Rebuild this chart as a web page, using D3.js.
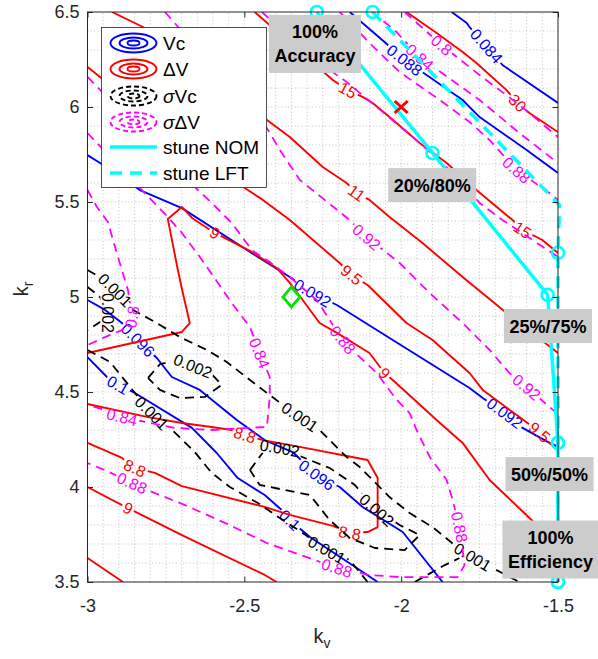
<!DOCTYPE html>
<html>
<head>
<meta charset="utf-8">
<title>stune contours</title>
<style>
  body { margin: 0; background: #fff; }
  text { font-family: "Liberation Sans", Arial, Helvetica, sans-serif; }
</style>
</head>
<body>
<svg id="chart" width="598" height="659"></svg>
<script src="https://cdnjs.cloudflare.com/ajax/libs/d3/7.8.5/d3.min.js"></script>
<script>
// axis ticks
var kvTicks = [-3, -2.5, -2, -1.5];
var krTicks = [3.5, 4, 4.5, 5, 5.5, 6, 6.5];

// Vc contours (blue), points are [kv, kr]
var vcLines = [
  {level: "0.084", pts: [[-1.839,6.5],[-1.791,6.442],[-1.782,6.421],[-1.728,6.321],[-1.677,6.221],[-1.5,6.021]], labels: [[-1.728,6.321]]},
  {level: "0.088", pts: [[-2.164,6.5],[-2.053,6.342],[-1.989,6.247],[-1.919,6.168],[-1.804,6.037],[-1.750,5.947],[-1.600,5.774],[-1.5,5.653]], labels: [[-1.989,6.247]]},
  {level: "0.092", pts: [[-3,5.747],[-2.960,5.705],[-2.833,5.563],[-2.699,5.468],[-2.467,5.221],[-2.355,5.105],[-2.282,5.021],[-2.205,4.958],[-2.037,4.784],[-1.782,4.521],[-1.740,4.468],[-1.670,4.389],[-1.613,4.311],[-1.527,4.232],[-1.5,4.211]], labels: [[-2.282,5.021],[-1.670,4.389]]},
  {level: "0.096", pts: [[-3,4.984],[-2.944,4.932],[-2.890,4.863],[-2.839,4.774],[-2.779,4.679],[-2.731,4.579],[-2.642,4.511],[-2.524,4.353],[-2.435,4.247],[-2.346,4.184],[-2.269,4.063],[-2.196,4.0],[-2.123,3.895],[-1.995,3.763],[-1.868,3.5]], labels: [[-2.839,4.774],[-2.269,4.063]]},
  {level: "0.1", pts: [[-3,4.684],[-2.938,4.579],[-2.903,4.537],[-2.849,4.495],[-2.667,4.311],[-2.588,4.179],[-2.521,4.047],[-2.435,3.958],[-2.381,3.879],[-2.355,3.826],[-2.291,3.737],[-2.132,3.563],[-2.075,3.5]], labels: [[-2.903,4.537],[-2.355,3.826]]}
];

// Delta V contours (red)
var dvLines = [
  {level: "30", pts: [[-1.983,6.5],[-1.887,6.389],[-1.804,6.289],[-1.760,6.232],[-1.664,6.089],[-1.629,6.021],[-1.591,5.968],[-1.5,5.868]], labels: [[-1.629,6.021]]},
  {level: "15", pts: [[-2.467,6.5],[-2.218,6.142],[-2.170,6.089],[-2.123,6.053],[-2.091,6.021],[-2.037,5.947],[-1.941,5.811],[-1.855,5.705],[-1.760,5.563],[-1.645,5.405],[-1.613,5.353],[-1.550,5.300],[-1.5,5.232]], labels: [[-2.170,6.089],[-1.613,5.353]]},
  {level: "11", pts: [[-2.922,6.5],[-2.823,6.421],[-2.428,5.932],[-2.355,5.842],[-2.250,5.684],[-2.174,5.600],[-2.142,5.547],[-2.101,5.511],[-2.037,5.421],[-1.932,5.284],[-1.804,5.105],[-1.664,4.916],[-1.5,4.705]], labels: [[-2.142,5.547]]},
  {level: "9.5", pts: [[-3,6.211],[-2.960,6.158],[-2.537,5.616],[-2.441,5.511],[-2.355,5.405],[-2.196,5.179],[-2.158,5.116],[-2.107,5.063],[-1.983,4.863],[-1.900,4.774],[-1.782,4.600],[-1.740,4.511],[-1.623,4.368],[-1.559,4.289],[-1.527,4.232],[-1.5,4.195]], labels: [[-2.158,5.116],[-1.559,4.289]]},
  {level: "9", pts: [[-3,4.705],[-2.699,4.816],[-2.674,4.863],[-2.696,5.021],[-2.712,5.142],[-2.744,5.411],[-2.699,5.474],[-2.667,5.416],[-2.594,5.337],[-2.476,5.237],[-2.397,5.153],[-2.355,5.074],[-2.314,4.984],[-2.260,4.863],[-2.205,4.811],[-2.101,4.705],[-2.053,4.600],[-2.027,4.563],[-1.887,4.353],[-1.804,4.232],[-1.718,4.037],[-1.591,3.837],[-1.5,3.695]], labels: [[-2.594,5.337],[-2.053,4.600]]},
  {level: "8.8", pts: [[-3,4.437],[-2.807,4.368],[-2.699,4.337],[-2.604,4.316],[-2.540,4.300],[-2.498,4.274],[-2.441,4.247],[-2.323,4.211],[-2.107,4.142],[-2.075,4.047],[-2.075,3.789],[-2.107,3.763],[-2.164,3.758],[-2.218,3.795],[-2.355,3.853],[-2.435,3.895],[-2.699,4.005],[-2.785,4.074],[-2.849,4.100],[-2.890,4.153],[-3,4.232]], labels: [[-2.498,4.274],[-2.164,3.758],[-2.849,4.100]]},
  {level: "9", pts: [[-3,4.0],[-2.890,3.905],[-2.871,3.889],[-2.839,3.863],[-2.699,3.747],[-2.435,3.537],[-2.397,3.5]], labels: [[-2.871,3.889]]},
  {level: "9.5", pts: [[-3,3.626],[-2.887,3.5]], labels: []}
];

// sigma Vc contours (black dashed)
var svLines = [
  {level: "0.001", pts: [[-3,5.142],[-2.960,5.105],[-2.912,5.037],[-2.855,4.932],[-2.779,4.863],[-2.705,4.789],[-2.619,4.721],[-2.556,4.658],[-2.482,4.563],[-2.428,4.495],[-2.377,4.432],[-2.323,4.368],[-2.260,4.300],[-2.174,4.158],[-2.132,4.105],[-2.037,3.947],[-1.973,3.863],[-1.900,3.789],[-1.830,3.695],[-1.772,3.632],[-1.709,3.574],[-1.623,3.5]], labels: [[-2.912,5.037],[-2.323,4.368],[-1.772,3.632]]},
  {level: "0.002", pts: [[-3,5.053],[-2.960,5.0],[-2.935,4.916],[-2.960,4.868],[-3,4.826]], labels: [[-2.935,4.916]]},
  {level: "0.002", pts: [[-2.807,4.574],[-2.769,4.647],[-2.705,4.668],[-2.664,4.637],[-2.610,4.605],[-2.572,4.537],[-2.626,4.474],[-2.705,4.468],[-2.769,4.511],[-2.807,4.574]], labels: [[-2.664,4.637]]},
  {level: "0.001", pts: [[-3,4.721],[-2.928,4.658],[-2.849,4.495],[-2.795,4.389],[-2.737,4.311],[-2.658,4.184],[-2.604,4.074],[-2.546,4.0],[-2.457,3.916],[-2.387,3.837],[-2.314,3.758],[-2.237,3.668],[-2.164,3.616],[-2.107,3.5]], labels: [[-2.795,4.389],[-2.237,3.668]]},
  {level: "0.002", pts: [[-2.482,4.089],[-2.435,4.195],[-2.387,4.205],[-2.323,4.163],[-2.228,4.100],[-2.148,4.011],[-2.078,3.879],[-2.005,3.800],[-1.941,3.747],[-1.989,3.668],[-2.084,3.679],[-2.164,3.732],[-2.228,3.826],[-2.291,3.958],[-2.371,3.984],[-2.451,4.011],[-2.482,4.089]], labels: [[-2.387,4.205],[-2.078,3.879]]},
  {level: "0.001", pts: [[-1.957,3.5],[-1.861,3.589],[-1.814,3.626]], labels: []}
];

// sigma Delta V contours (magenta dashed)
var sdLines = [
  {level: "0.8", pts: [[-3,5.563],[-2.970,5.474],[-2.935,5.395],[-2.903,5.211],[-2.871,5.037],[-2.858,4.895],[-2.890,4.826],[-2.944,4.789],[-3,4.747]], labels: [[-2.858,4.895]]},
  {level: "0.84", pts: [[-3,5.863],[-2.833,5.574],[-2.744,5.421],[-2.699,5.337],[-2.642,5.211],[-2.584,5.074],[-2.540,4.968],[-2.482,4.842],[-2.451,4.705],[-2.419,4.579],[-2.419,4.474],[-2.428,4.316],[-2.492,4.311],[-2.604,4.300],[-2.721,4.311],[-2.890,4.368],[-2.944,4.405],[-3,4.432]], labels: [[-2.451,4.705],[-2.890,4.368]]},
  {level: "0.88", pts: [[-3,6.158],[-2.658,5.579],[-2.604,5.495],[-2.540,5.389],[-2.476,5.247],[-2.419,5.184],[-2.355,5.105],[-2.307,5.037],[-2.269,4.984],[-2.228,4.879],[-2.186,4.774],[-2.132,4.684],[-2.078,4.600],[-2.014,4.458],[-1.973,4.389],[-1.951,4.300],[-1.909,4.158],[-1.855,4.037],[-1.836,3.932],[-1.814,3.789],[-1.804,3.668],[-1.798,3.589],[-1.820,3.526],[-2.005,3.526],[-2.101,3.537],[-2.205,3.574],[-2.428,3.705],[-2.562,3.811],[-2.689,3.905],[-2.785,3.968],[-2.858,4.021],[-2.944,4.089],[-3,4.126]], labels: [[-2.186,4.774],[-1.814,3.789],[-2.205,3.574],[-2.858,4.021]]},
  {level: "0.92", pts: [[-2.753,6.5],[-2.428,5.889],[-2.387,5.774],[-2.323,5.616],[-2.244,5.511],[-2.164,5.405],[-2.110,5.316],[-2.005,5.179],[-1.909,5.021],[-1.804,4.863],[-1.718,4.721],[-1.655,4.600],[-1.600,4.526],[-1.527,4.421],[-1.5,4.384]], labels: [[-2.110,5.316],[-1.600,4.526]]},
  {level: "0.92", pts: [[-2.444,6.5],[-2.355,6.368],[-2.228,6.195],[-2.174,6.132],[-2.078,6.0],[-1.941,5.811],[-1.846,5.668],[-1.750,5.495],[-1.677,5.405],[-1.581,5.300],[-1.5,5.211]], labels: []},
  {level: "0.88", pts: [[-2.196,6.5],[-2.094,6.326],[-2.005,6.184],[-1.877,6.037],[-1.782,5.921],[-1.718,5.826],[-1.632,5.668],[-1.527,5.547],[-1.5,5.511]], labels: [[-1.632,5.668]]},
  {level: "0.84", pts: [[-2.094,6.5],[-2.021,6.405],[-1.941,6.263],[-1.861,6.168],[-1.750,6.037],[-1.623,5.863],[-1.5,5.705]], labels: [[-1.941,6.263]]},
  {level: "0.8", pts: [[-1.989,6.5],[-1.871,6.326],[-1.750,6.168],[-1.623,6.011],[-1.5,5.842]], labels: [[-1.871,6.326]]}
];

// stune paths
var stuneNom = [[-2.269,6.5],[-1.900,5.758],[-1.533,5.011],[-1.5,4.232],[-1.5,3.5]];
var stuneLft = [[-2.091,6.5],[-1.495,5.484],[-1.5,5.232],[-1.5,4.232],[-1.5,3.5]];

// markers
var nominalPoint = [-2, 6];
var optimumPoint = [-2.35, 5.0];

// annotation boxes: [kv, kr, lines]
var boxNotes = [
  [-2.275, 6.332, ["100%", "Accuracy"]],
  [-1.901, 5.589, ["20%/80%"]],
  [-1.532, 4.847, ["25%/75%"]],
  [-1.527, 4.068, ["50%/50%"]],
  [-1.524, 3.671, ["100%", "Efficiency"]]
];

var W = 598, H = 659;
var x = d3.scaleLinear().domain([-3, -1.5]).range([87.5, 558]);
var y = d3.scaleLinear().domain([3.5, 6.5]).range([582, 12]);

var svg = d3.select("#chart");
var defs = svg.append("defs");
defs.append("clipPath").attr("id", "clip").append("rect")
  .attr("x", x(-3)).attr("y", y(6.5)).attr("width", x(-1.5) - x(-3)).attr("height", y(3.5) - y(6.5));
defs.append("clipPath").attr("id", "clipWide").append("rect")
  .attr("x", x(-3) - 3).attr("y", y(6.5) - 3).attr("width", x(-1.5) - x(-3) + 6).attr("height", y(3.5) - y(6.5) + 6);

// minor grid
var grid = svg.append("g").attr("stroke", "#b4b4b4").attr("stroke-width", 0.8).attr("stroke-dasharray", "1,2.4");
grid.selectAll(".gv").data(d3.range(1, 30).map(function (i) { return -3 + i * 0.05; }))
  .enter().append("line")
  .attr("x1", function (d) { return x(d); }).attr("x2", function (d) { return x(d); })
  .attr("y1", y(3.5)).attr("y2", y(6.5));
grid.selectAll(".gh").data(d3.range(1, 30).map(function (i) { return 3.5 + i * 0.1; }))
  .enter().append("line")
  .attr("y1", function (d) { return y(d); }).attr("y2", function (d) { return y(d); })
  .attr("x1", x(-3)).attr("x2", x(-1.5));

var line = d3.line().x(function (d) { return x(d[0]); }).y(function (d) { return y(d[1]); });

function labelAngle(pts, p) {
  var best = 1e9, k = 0;
  pts.forEach(function (q, i) {
    var d = (q[0] - p[0]) * (q[0] - p[0]) + (q[1] - p[1]) * (q[1] - p[1]);
    if (d < best) { best = d; k = i; }
  });
  var a = pts[Math.max(k - 1, 0)], b = pts[Math.min(k + 1, pts.length - 1)];
  var ang = Math.atan2(y(b[1]) - y(a[1]), x(b[0]) - x(a[0])) * 180 / Math.PI;
  if (ang > 90) ang -= 180;
  if (ang < -90) ang += 180;
  return ang;
}

function drawFamily(name, lines, color, dash, width) {
  var g = svg.append("g");
  var mask = defs.append("mask").attr("id", "mask-" + name)
    .attr("maskUnits", "userSpaceOnUse").attr("x", 0).attr("y", 0).attr("width", W).attr("height", H);
  mask.append("rect").attr("width", W).attr("height", H).attr("fill", "white");
  var lg = g.append("g").attr("clip-path", "url(#clip)").append("g").attr("mask", "url(#mask-" + name + ")");
  var tg = g.append("g");
  lines.forEach(function (c) {
    lg.append("path").attr("d", line(c.pts))
      .attr("fill", "none").attr("stroke", color).attr("stroke-width", width)
      .attr("stroke-dasharray", dash).attr("stroke-linejoin", "round");
    c.labels.forEach(function (p) {
      var tr = "translate(" + x(p[0]) + "," + y(p[1]) + ") rotate(" + labelAngle(c.pts, p) + ")";
      var t = tg.append("text").attr("transform", tr).attr("text-anchor", "middle")
        .attr("dy", "0.36em").attr("font-size", 16).attr("fill", color).text(c.level);
      var w = t.node().getComputedTextLength();
      mask.append("rect").attr("transform", tr).attr("x", -w / 2 - 2).attr("y", -7.5)
        .attr("width", w + 4).attr("height", 15).attr("fill", "black");
    });
  });
}

drawFamily("vc", vcLines, "#0000ff", null, 1.9);
drawFamily("dv", dvLines, "#ff0000", null, 1.9);
drawFamily("sv", svLines, "#000000", "9,6", 1.8);
drawFamily("sd", sdLines, "#ff00ff", "9,6", 1.8);

// stune lines
var cyanG = svg.append("g");
cyanG.append("path").attr("d", line(stuneNom)).attr("clip-path", "url(#clipWide)")
  .attr("fill", "none").attr("stroke", "#00ffff").attr("stroke-width", 3.5);
cyanG.append("path").attr("d", line(stuneLft)).attr("clip-path", "url(#clipWide)")
  .attr("fill", "none").attr("stroke", "#00ffff").attr("stroke-width", 3.5).attr("stroke-dasharray", "12,8");
var marks = stuneNom.concat(stuneLft).filter(function (d) { return d[0] <= -1.5; });
cyanG.selectAll("circle").data(marks).enter().append("circle")
  .attr("cx", function (d) { return x(d[0]); }).attr("cy", function (d) { return y(d[1]); })
  .attr("r", 6).attr("fill", "none").attr("stroke", "#00ffff").attr("stroke-width", 2.6);

// nominal (x) and optimum (diamond)
var nx = x(nominalPoint[0]), ny = y(nominalPoint[1]);
svg.append("path").attr("d", "M" + (nx - 6.5) + "," + (ny - 6) + "L" + (nx + 6.5) + "," + (ny + 6) + "M" + (nx - 6.5) + "," + (ny + 6) + "L" + (nx + 6.5) + "," + (ny - 6))
  .attr("stroke", "#ff0000").attr("stroke-width", 3).attr("fill", "none");
var ox = x(optimumPoint[0]), oy = y(optimumPoint[1]);
svg.append("path").attr("d", "M" + ox + "," + (oy - 10) + "L" + (ox + 8.5) + "," + oy + "L" + ox + "," + (oy + 10) + "L" + (ox - 8.5) + "," + oy + "Z")
  .attr("stroke", "#00e600").attr("stroke-width", 2.8).attr("fill", "none");

// axes
var fmt = function (d) { return String(d); };
var axG = svg.append("g");
axG.append("g").attr("transform", "translate(0," + y(3.5) + ")")
  .call(d3.axisBottom(x).tickValues(kvTicks).tickFormat(fmt).tickSizeInner(-5.5).tickSizeOuter(0).tickPadding(17));
axG.append("g").attr("transform", "translate(0," + y(6.5) + ")")
  .call(d3.axisTop(x).tickValues(kvTicks).tickFormat("").tickSizeInner(-5.5).tickSizeOuter(0));
axG.append("g").attr("transform", "translate(" + x(-3) + ",0)")
  .call(d3.axisLeft(y).tickValues(krTicks).tickFormat(fmt).tickSizeInner(-5.5).tickSizeOuter(0).tickPadding(8));
axG.append("g").attr("transform", "translate(" + x(-1.5) + ",0)")
  .call(d3.axisRight(y).tickValues(krTicks).tickFormat("").tickSizeInner(-5.5).tickSizeOuter(0));
axG.selectAll(".domain").remove();
axG.selectAll("g").attr("font-size", 18).attr("font-family", "Liberation Sans, Arial, sans-serif");
axG.selectAll(".tick line").attr("stroke", "#262626");
axG.selectAll(".tick text").attr("fill", "#262626");
svg.append("rect").attr("x", x(-3)).attr("y", y(6.5)).attr("width", x(-1.5) - x(-3)).attr("height", y(3.5) - y(6.5))
  .attr("fill", "none").attr("stroke", "#262626").attr("stroke-width", 1);

var xl = svg.append("text").attr("x", 322).attr("y", 643).attr("text-anchor", "middle").attr("font-size", 20).attr("fill", "#262626");
xl.append("tspan").text("k");
xl.append("tspan").attr("dy", 5).attr("font-size", 14).text("v");
var yl = svg.append("text").attr("transform", "translate(28,289) rotate(-90)").attr("text-anchor", "middle").attr("font-size", 20).attr("fill", "#262626");
yl.append("tspan").text("k");
yl.append("tspan").attr("dy", 5).attr("font-size", 14).text("r");

// annotation boxes
boxNotes.forEach(function (b) {
  var g = svg.append("g").attr("transform", "translate(" + x(b[0]) + "," + y(b[1]) + ")");
  var rect = g.append("rect").attr("fill", "#cccccc");
  var lh = 24, n = b[2].length, maxW = 0;
  b[2].forEach(function (s, i) {
    var t = g.append("text").attr("text-anchor", "middle").attr("font-weight", "bold").attr("font-size", 18)
      .attr("y", (i - (n - 1) / 2) * lh).attr("dy", "0.36em").attr("fill", "#000").text(s);
    maxW = Math.max(maxW, t.node().getComputedTextLength());
  });
  var bw = maxW + 11, bh = n * lh + 10;
  rect.attr("x", -bw / 2).attr("y", -bh / 2).attr("width", bw).attr("height", bh);
});

// legend
var legItems = [
  {name: ["Vc"], color: "#0000ff", kind: "ring", dash: null},
  {name: ["\u0394V"], color: "#ff0000", kind: "ring", dash: null},
  {name: ["\u03c3", "Vc"], color: "#000000", kind: "ring", dash: "5,3"},
  {name: ["\u03c3", "\u0394V"], color: "#ff00ff", kind: "ring", dash: "5,3"},
  {name: ["stune NOM"], color: "#00ffff", kind: "line", dash: null},
  {name: ["stune LFT"], color: "#00ffff", kind: "line", dash: "12,8"}
];
var legRows = [43, 69, 96, 122, 147, 173];
var leg = svg.append("g");
leg.append("rect").attr("x", 101.5).attr("y", 27.5).attr("width", 165).attr("height", 160)
  .attr("fill", "#fff").attr("stroke", "#262626").attr("stroke-width", 0.8);
legItems.forEach(function (it, i) {
  var cy = legRows[i];
  if (it.kind === "ring") {
    [[23, 9.5], [14, 5.5], [6, 2.5]].forEach(function (r) {
      leg.append("ellipse").attr("cx", 133.5).attr("cy", cy).attr("rx", r[0]).attr("ry", r[1])
        .attr("fill", "none").attr("stroke", it.color).attr("stroke-width", 1.9).attr("stroke-dasharray", it.dash);
    });
  } else {
    leg.append("line").attr("x1", 110).attr("x2", 157).attr("y1", cy).attr("y2", cy)
      .attr("stroke", it.color).attr("stroke-width", 3.5).attr("stroke-dasharray", it.dash);
  }
  var t = leg.append("text").attr("x", 163).attr("y", cy).attr("dy", "0.36em").attr("font-size", 19).attr("fill", "#000");
  if (it.name.length === 2) {
    t.append("tspan").attr("font-style", "italic").text(it.name[0]);
    t.append("tspan").text(it.name[1]);
  } else {
    t.text(it.name[0]);
  }
});
</script>
</body>
</html>
